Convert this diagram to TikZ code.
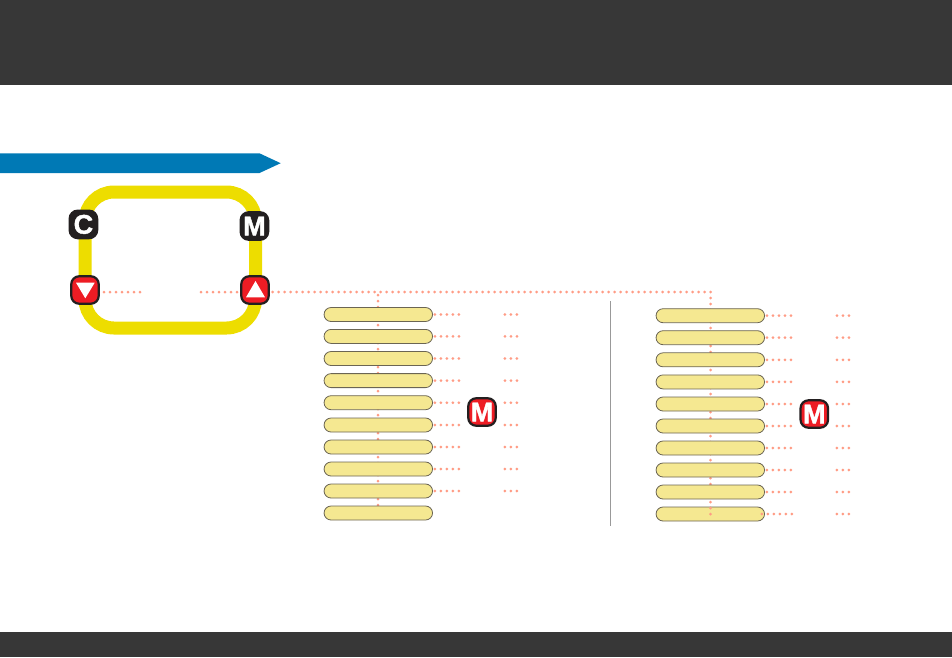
\documentclass[tikz,border=0pt]{standalone}
\usepackage{fontspec}
\setsansfont{Liberation Sans}
\newfontfamily\badgefont[UprightFont=* Bold,FakeBold=1.5]{Liberation Sans}
\usetikzlibrary{calc,shapes.misc}
\definecolor{bandgrey}{HTML}{373737}
\definecolor{arrowblue}{HTML}{0079B5}
\definecolor{loopyellow}{HTML}{EDDD00}
\definecolor{badgered}{HTML}{ED1C24}
\definecolor{badgeblack}{HTML}{231F20}
\definecolor{pillfill}{HTML}{F5E891}
\definecolor{pillline}{HTML}{6B6553}
\definecolor{dotsalmon}{HTML}{FF9C85}
\tikzset{
  dotline/.style={dotsalmon, line width=3pt, line cap=round, dash pattern=on 0pt off 6pt},
  pill/.style={rounded rectangle, draw=pillline, fill=pillfill, line width=.8pt,
    minimum width=108.5pt, minimum height=14pt, inner sep=0pt},
  badge/.style={draw=badgeblack, line width=2.2pt, rounded corners=8pt, minimum size=27.5pt,
    inner sep=0pt, text=white, font=\badgefont\fontsize{27}{27}\selectfont},
  blackbadge/.style={badge, fill=badgeblack},
  redbadge/.style={badge, fill=badgered},
}
\begin{document}
\begin{tikzpicture}[x=1pt,y=-1pt]
    \useasboundingbox (0,0) rectangle (952,657);

    % bands
    \fill[bandgrey] (0,0) rectangle (952,85);
    \fill[bandgrey] (0,632) rectangle (952,657);
    \fill[arrowblue] (0,153.3) -- (259.5,153.3) -- (280.7,163.2) -- (259.5,173) -- (0,173) -- cycle;

    % loop
    \draw[loopyellow, line width=13pt, rounded corners=29pt] (85,192) rectangle (255.5,328);

    \node[blackbadge] (C) at (83.4,224.4) {C};
    \node[blackbadge] (M) at (254.4,226) {M};
    \node[redbadge] (down) at (85,290) {};
    \node[redbadge] (up) at (255,290) {};
    \fill[white] (76,282.7) -- (94.7,282.7) -- (85.3,298.3) -- cycle;
    \fill[white] (246,297.3) -- (265,297.3) -- (255.5,281) -- cycle;

    \coordinate (downstart) at (104,292);
    \coordinate (downend) at (140.5,292);
    \coordinate (upstart) at (201,292);
    \coordinate (upend) at (238,292);
    \coordinate (busstart) at (272.6,292);
    \coordinate (busR) at (710.8,292);
    \coordinate (vertL) at (378,295);
    \coordinate (vertLend) at (378,506);
    \coordinate (vertR) at (710.5,298);
    \coordinate (vertRend) at (710.5,515);

    \draw[dotline] (downstart) -- (downend);
    \draw[dotline] (upstart) -- (upend);
    \draw[dotline] (busstart) -- (busR);

    % column dots go behind the pills
    \draw[dotline] (vertL) -- (vertLend);
    \draw[dotline] (vertR) -- (vertRend);

    \draw[gray!80, line width=.8pt] (610.5,301) -- (610.5,526);

    \foreach \i/\ya in {1/314.5,2/336.4,3/358.5,4/380.6,5/402.7,6/425,7/447,8/469,9/491,10/513}
        \node[pill] (pillL\i) at (378.3,\ya) {};
    \foreach \i/\yb in {1/315.7,2/337.7,3/359.8,4/381.9,5/404,6/426,7/448,8/470,9/492,10/514}
        \node[pill] (pillR\i) at (710.3,\yb) {};

    % last dots lie over the pill
    \coordinate (lastR) at (710.5,508);
    \coordinate (lastRend) at (710.5,515);
    \draw[dotline] (lastR) -- (lastRend);

    \foreach \i in {1,...,9} {
        \draw[dotline] ([xshift=2pt]pillL\i.east) -- ++(25,0) coordinate (endL\i);
        \coordinate (farL\i) at ($(pillL\i.east)+(72,0)$);
        \draw[dotline] (farL\i) -- ++(13,0);
    }
    \foreach \i in {1,...,9} {
        \draw[dotline] ([xshift=2pt]pillR\i.east) -- ++(25,0) coordinate (endR\i);
        \coordinate (farR\i) at ($(pillR\i.east)+(72,0)$);
        \draw[dotline] (farR\i) -- ++(13,0);
    }
    \draw[dotline] ([xshift=-3pt]pillR10.east) -- ++(30,0);
    \draw[dotline] ($(pillR10.east)+(72,0)$) -- ++(13,0);

    \node[redbadge] (M1) at (482,412) {M};
    \node[redbadge] (M2) at (814.3,414) {M};
\end{tikzpicture}
\end{document}
